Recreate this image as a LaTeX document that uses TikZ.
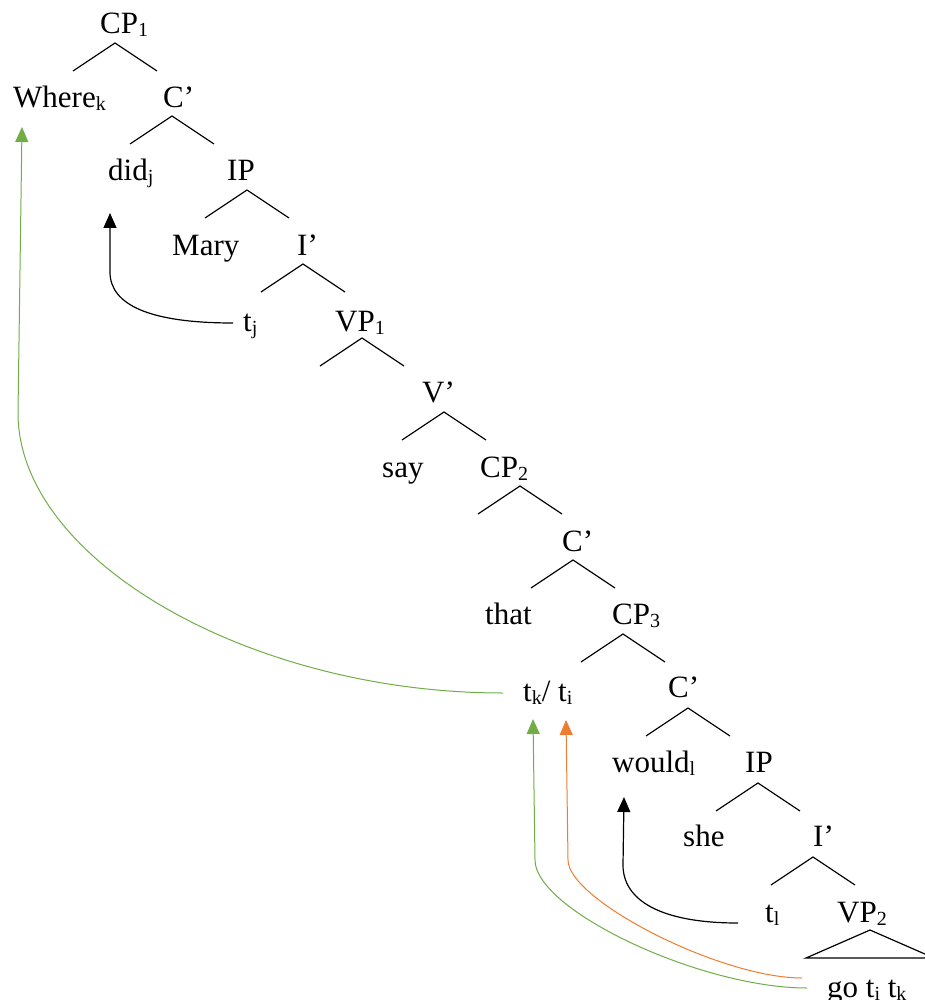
\documentclass[tikz,border=0pt]{standalone}
\usepackage{fontspec}
\setmainfont{Liberation Serif}
\usetikzlibrary{arrows.meta}
\definecolor{wgreen}{RGB}{112,173,71}
\definecolor{worange}{RGB}{237,125,49}
\newcommand\sbs[1]{\raisebox{-3pt}{\fontsize{20}{20}\selectfont #1}}
\begin{document}
\begin{tikzpicture}[x=1pt,y=-1pt,
  lbl/.style={anchor=base west,inner sep=0pt,font=\fontsize{31}{31}\selectfont},
  branch/.style={line width=1.2pt,black},
  mv/.style={line width=1.2pt,-{Triangle[length=15pt,width=13pt]}},
  gmv/.style={line width=1pt,wgreen,-{Triangle[length=15pt,width=13pt]}},
  omv/.style={line width=1pt,worange,-{Triangle[length=15pt,width=13pt]}}]
\useasboundingbox (0,0) rectangle (924,1000);
% nodes
\node[lbl] (cp1) at (100,34) {CP\sbs{1}};
\node[lbl] (where) at (13,108) {Where\sbs{k}};
\node[lbl] (c1) at (163,108) {C’};
\node[lbl] (did) at (108,181) {did\sbs{j}};
\node[lbl] (ip1) at (227,181) {IP};
\node[lbl] (mary) at (172,255) {Mary};
\node[lbl] (i1) at (297,255) {I’};
\node[lbl] (tj) at (243,331) {t\sbs{j}};
\node[lbl] (vp1) at (335,331) {VP\sbs{1}};
\node[lbl] (v1) at (422,402) {V’};
\node[lbl] (say) at (382,477) {say};
\node[lbl] (cp2) at (480,477) {CP\sbs{2}};
\node[lbl] (c2) at (562,551) {C’};
\node[lbl] (that) at (485,624) {that};
\node[lbl] (cp3) at (612,624) {CP\sbs{3}};
\node[lbl] (tkti) at (523,701) {t\sbs{k}/ t\sbs{i}};
\node[lbl] (c3) at (668,697) {C’};
\node[lbl] (would) at (612,772) {would\sbs{l}};
\node[lbl] (ip2) at (745,772) {IP};
\node[lbl] (she) at (683,846) {she};
\node[lbl] (i2) at (813,846) {I’};
\node[lbl] (tl) at (765,922) {t\sbs{l}};
\node[lbl] (vp2) at (837,922) {VP\sbs{2}};
\node[lbl] (go) at (827,997) {go t\sbs{i} t\sbs{k}};
% branch apexes
\coordinate (a1) at (115,43);
\coordinate (a2) at (172,116);
\coordinate (a3) at (247,190);
\coordinate (a4) at (303,264);
\coordinate (a5) at (362,338);
\coordinate (a6) at (444,412);
\coordinate (a7) at (520,486);
\coordinate (a8) at (573,560);
\coordinate (a9) at (623,634);
\coordinate (a10) at (688,708);
\coordinate (a11) at (758,783);
\coordinate (a12) at (813,857);
\foreach \a in {a1,a2,a3,a4,a5,a6,a7,a8,a9,a10,a11,a12}{
  \draw[branch] ([xshift=-42pt,yshift=-28pt]\a) -- (\a) -- ([xshift=42pt,yshift=-28pt]\a);
}
\coordinate (tri) at (870,930);
\draw[branch] (tri) -- ([xshift=-64pt,yshift=-28pt]tri) -- ([xshift=64pt,yshift=-28pt]tri) -- cycle;
% movement arrows
\coordinate (tjs) at (233,323);
\coordinate (didt) at (110,213);
\draw[mv] (tjs) .. controls (150,323) and (110,305) .. (110,272) -- (didt);
\coordinate (tls) at (738,923);
\coordinate (wouldt) at (624,797);
\draw[mv] (tls) .. controls (660,923) and (623,900) .. (623,865) -- (wouldt);
\coordinate (gos1) at (802,978);
\coordinate (tit) at (566,720);
\draw[omv] (gos1) .. controls (720,978) and (568,900) .. (568,860) -- (tit);
\coordinate (gos2) at (807,988);
\coordinate (tkt) at (533,719);
\draw[gmv] (gos2) .. controls (700,988) and (535,910) .. (535,860) -- (tkt);
\coordinate (tks) at (503,693);
\coordinate (wheret) at (22,127);
\draw[gmv] (tks) .. controls (250,693) and (18,560) .. (18,413) -- (wheret);
\end{tikzpicture}
\end{document}
